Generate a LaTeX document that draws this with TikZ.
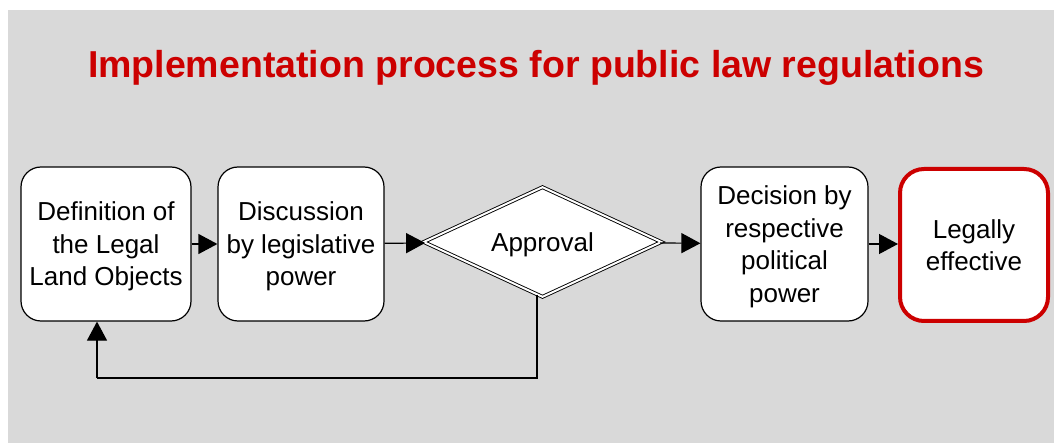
\documentclass[tikz,border=0pt]{standalone}
\usepackage{fontspec}
\setmainfont{Liberation Sans}
\usetikzlibrary{shapes.geometric,arrows.meta}
\definecolor{bggray}{HTML}{D9D9D9}
\definecolor{titlered}{HTML}{CC0000}
\tikzset{
  stepbox/.style={draw=black, line width=1.2pt, fill=white, rounded corners=20pt,
    minimum height=154pt, align=center, inner sep=0pt, text depth=0pt,
    font=\fontsize{26}{32.5}\selectfont},
  endbox/.style={stepbox, draw=titlered, line width=4pt, rounded corners=24pt},
  decision/.style={diamond, draw=black, line width=0.9pt, double=white, double distance=2pt,
    fill=white, shape aspect=2.1, minimum width=238pt, minimum height=110pt, inner sep=0pt,
    text depth=0pt, font=\fontsize{26}{32.5}\selectfont},
  flow/.style={line width=1.2pt, -{Triangle[length=19pt,width=20pt]}},
}
\begin{document}
\begin{tikzpicture}[x=1pt,y=-1pt]
\useasboundingbox (0,0) rectangle (1054,443);
\fill[bggray] (8,10) rectangle (1054,443);
\node[font=\fontsize{37.5}{40}\selectfont\bfseries, text=titlered] (title) at (536,68) {Implementation process for public law regulations};
\node[stepbox, minimum width=170pt] (def) at (106,244) {Definition of\\the Legal\\Land Objects};
\node[stepbox, minimum width=166pt] (disc) at (301,244) {Discussion\\by legislative\\power};
\node[decision] (appr) at (542.5,242) {Approval};
\node[stepbox, minimum width=167pt] (dec) at (784.5,244) {Decision by\\respective\\political\\power};
\node[endbox, minimum width=148pt, minimum height=152pt] (legal) at (974,245) {Legally\\effective};
\draw[flow] (def) -- (disc);
\draw[flow] (disc) -- (appr);
\draw[flow] (appr) -- (dec);
\draw[flow] (dec.east) -- (legal.west |- dec.east);
\coordinate (fbA) at (537,378);
\coordinate (fbB) at (97,378);
\draw[line width=1.2pt] (fbA |- 0,295) -- (fbA) -- (fbB);
\draw[flow] (fbB) -- (fbB |- def.south);
\end{tikzpicture}
\end{document}
